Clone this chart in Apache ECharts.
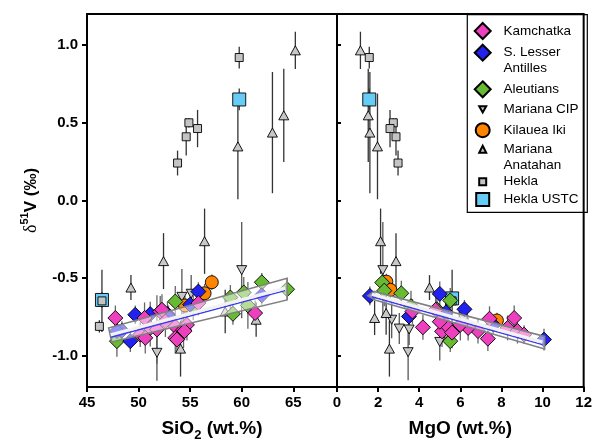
<!DOCTYPE html>
<html><head><meta charset="utf-8">
<script src="https://cdn.jsdelivr.net/npm/echarts@6/dist/echarts.min.js"></script>
<style>html,body{margin:0;padding:0;background:#fff}#c{width:595px;height:447px}</style>
</head><body><div id="c"></div>
<script>
// ---------- tick labels ----------
const yTicks = [-1.0, -0.5, 0.0, 0.5, 1.0];
const sio2Ticks = [45, 50, 55, 60, 65];
const mgoTicks = [0, 2, 4, 6, 8, 10, 12];

// ---------- data: [x, δ51V, error half-width] ----------
// SiO2 panel
const kamchatkaSiO2 = [[47.75,-0.756,0.08],[50.58,-0.756,0.10],[52.1,-0.714,0.10],[51.13,-0.82,0.12],[51.78,-0.83,0.22],[50.16,-0.863,0.08],[50.65,-0.884,0.10],[53.56,-0.81,0.08],[53.56,-0.884,0.10],[53.72,-0.895,0.08],[54.36,-0.83,0.12],[54.69,-0.80,0.10],[55.8,-0.66,0.08],[52.6,-0.778,0.10],[61.3,-0.724,0.08],[54.46,-0.84,0.06],[52.27,-0.703,0.10]];
const slaSiO2 = [[49.68,-0.735,0.06],[49.2,-0.905,0.07],[48.39,-0.837,0.06],[47.9,-0.84,0.05],[51.13,-0.731,0.08],[52.8,-0.731,0.08],[55.8,-0.586,0.06],[55.0,-0.67,0.06],[52.9,-0.746,0.07],[61.95,-0.61,0.06]];
const aleutiansSiO2 = [[47.9,-0.905,0.10],[53.56,-0.65,0.10],[55.3,-0.69,0.08],[58.9,-0.624,0.08],[59.15,-0.729,0.07],[60.2,-0.592,0.10],[60.6,-0.675,0.15],[61.95,-0.526,0.06],[64.4,-0.571,0.07]];
const cipSiO2 = [[60.0,-0.448,0.31],[51.78,-0.98,0.18],[55.1,-0.60,0.12],[54.2,-0.62,0.18]];
const kilaueaSiO2 = [[54.5,-0.675,0.06],[56.4,-0.597,0.06],[57.1,-0.526,0.05]];
const anatahanSiO2 = [[59.63,0.348,0.34],[62.98,0.437,0.39],[64.08,0.548,0.30],[65.2,0.966,0.12],[52.42,-0.39,0.18],[49.26,-0.56,0.08],[56.4,-0.262,0.21],[54.07,-0.953,0.18],[61.4,-0.767,0.11],[58.4,-0.714,0.14]];
const heklaSiO2 = [[53.78,0.241,0.08],[54.62,0.41,0.12],[54.88,0.50,0.03],[55.72,0.463,0.12],[59.76,0.92,0.07],[46.45,-0.646,0.20],[46.2,-0.81,0.04]];
const heklaUstcSiO2 = [[59.76,0.65,0.07],[46.45,-0.64,0.05]];
// MgO panel
const kamchatkaMgO = [[3.67,-0.714,0.08],[4.18,-0.816,0.08],[5.11,-0.842,0.10],[4.8,-0.703,0.10],[7.42,-0.761,0.08],[8.62,-0.756,0.08],[7.34,-0.889,0.08],[8.3,-0.82,0.08],[8.78,-0.84,0.08],[6.86,-0.84,0.08],[6.38,-0.82,0.08],[9.1,-0.863,0.06],[5.3,-0.80,0.10],[5.6,-0.85,0.10],[6.0,-0.80,0.10],[5.0,-0.78,0.10]];
const slaMgO = [[1.6,-0.614,0.06],[3.5,-0.746,0.06],[5.0,-0.601,0.08],[5.3,-0.72,0.07],[6.2,-0.70,0.06],[7.6,-0.80,0.06],[10.07,-0.895,0.07]];
const aleutiansMgO = [[2.2,-0.528,0.10],[3.13,-0.597,0.08],[5.51,-0.643,0.08],[5.51,-0.905,0.07],[4.86,-0.70,0.10],[2.3,-0.58,0.10],[3.6,-0.68,0.10]];
const cipMgO = [[2.23,-0.448,0.31],[2.66,-0.767,0.12],[3.03,-0.824,0.10],[3.46,-0.976,0.18],[3.51,-0.83,0.10],[5.0,-0.91,0.12]];
const kilaueaMgO = [[2.4,-0.522,0.05],[2.6,-0.575,0.06],[7.78,-0.772,0.05]];
const anatahanMgO = [[1.14,0.966,0.12],[1.52,0.548,0.30],[1.6,0.437,0.39],[1.97,0.348,0.34],[2.12,-0.262,0.21],[2.87,-0.39,0.18],[1.83,-0.756,0.11],[2.39,-0.724,0.14],[2.55,-0.953,0.18],[4.5,-0.56,0.08]];
const heklaMgO = [[1.57,0.92,0.07],[2.74,0.50,0.03],[2.58,0.463,0.12],[2.87,0.41,0.12],[2.97,0.241,0.08],[5.6,-0.646,0.20],[6.14,-0.74,0.04]];
const heklaUstcMgO = [[1.57,0.65,0.07],[5.6,-0.63,0.05]];

// regression bands (outline vertices) and centre lines
const bandSiO2 = [[47.1,-0.82],[64.4,-0.50],[64.4,-0.64],[47.4,-0.91]];
const fitSiO2 = [[47.3,-0.868],[64.2,-0.568]];
const bandMgO = [[1.5,-0.612],[1.8,-0.585],[10.1,-0.875],[10.1,-0.955],[1.85,-0.64]];
const fitMgO = [[1.7,-0.607],[10.0,-0.915]];

// ---------- styles ----------
const FONT = 'Liberation Sans, Arial, sans-serif';
const ST = {
  'Kamchatka':        {symbol:'diamond', size:[15,15], color:'#EE3FBF', rot:0, z:7, err:'#666', leg:16},
  'S. Lesser Antilles':{symbol:'diamond', size:[15,15], color:'#2222F0', rot:0, z:6, err:'#666', leg:16},
  'Aleutians':        {symbol:'diamond', size:[15,15], color:'#66BB33', rot:0, z:5, err:'#666', leg:16},
  'Mariana CIP':      {symbol:'triangle', size:[10,9], color:'#C8C8C8', rot:180, z:3, err:'#555', leg:7,
                       icon:'path://M0,0L10,0L5,9Z'},
  'Kilauea Iki':      {symbol:'circle', size:13, color:'#FF8400', rot:0, z:4, err:'#666', leg:14},
  'Mariana Anatahan': {symbol:'triangle', size:[10,9], color:'#C8C8C8', rot:0, z:3, err:'#333', leg:7},
  'Hekla':            {symbol:'rect', size:8, color:'#C4C4C4', rot:0, z:3, err:'#333', leg:7},
  'Hekla USTC':       {symbol:'rect', size:13, color:'#66CCF5', rot:0, z:2, err:'#333', leg:13}
};

const series = [];
function addSet(name, data, panel) {
  const st = ST[name];
  series.push({
    type:'custom', name:'err', xAxisIndex:panel, yAxisIndex:panel, z:1, silent:true,
    data:data, encode:{x:0, y:1},
    renderItem:function(params, api){
      const x = api.value(0), y = api.value(1), e = api.value(2);
      const a = api.coord([x, y + e]), b = api.coord([x, y - e]);
      return {type:'line', shape:{x1:a[0], y1:a[1], x2:b[0], y2:b[1]}, style:{stroke:st.err, lineWidth:1.3}};
    }
  });
  series.push({
    type:'scatter', name:name, xAxisIndex:panel, yAxisIndex:panel, z:st.z,
    data:data.map(d => [d[0], d[1]]),
    symbol:st.symbol, symbolSize:st.size, symbolRotate:st.rot,
    itemStyle:{color:st.color, borderColor:'#000', borderWidth:0.9, opacity:1},
    emphasis:{disabled:true}
  });
}
const panels = [
  [kamchatkaSiO2, slaSiO2, aleutiansSiO2, cipSiO2, kilaueaSiO2, anatahanSiO2, heklaSiO2, heklaUstcSiO2],
  [kamchatkaMgO, slaMgO, aleutiansMgO, cipMgO, kilaueaMgO, anatahanMgO, heklaMgO, heklaUstcMgO]
];
const names = Object.keys(ST);
panels.forEach((sets, p) => sets.forEach((d, i) => addSet(names[i], d, p)));

function addBand(pts, fit, panel) {
  series.push({
    type:'custom', name:'band', xAxisIndex:panel, yAxisIndex:panel, z:8, silent:true, clip:false,
    data:[pts[0]], encode:{x:0, y:1},
    renderItem:function(params, api){
      return {type:'polygon', shape:{points:pts.map(q => api.coord(q))},
        style:{fill:'rgba(255,255,255,0.5)', stroke:'#808080', lineWidth:1.6}};
    }
  });
  series.push({
    type:'line', name:'fitBlue', xAxisIndex:panel, yAxisIndex:panel, z:9, silent:true,
    data:fit.map(q => [q[0], q[1] - 0.012]), symbol:'none', lineStyle:{color:'#3a3af0', width:1.4}
  });
  series.push({
    type:'line', name:'fitWhite', xAxisIndex:panel, yAxisIndex:panel, z:10, silent:true,
    data:fit.map(q => [q[0], q[1] + 0.004]), symbol:'none', lineStyle:{color:'#f2f2f2', width:3.2}
  });
}
addBand(bandSiO2, fitSiO2, 0);
addBand(bandMgO, fitMgO, 1);

// ---------- legend (one component per entry so icon sizes can differ) ----------
const legendRows = [
  ['Kamchatka', 30, 1], ['S. Lesser Antilles', 52.7, 2], ['Aleutians', 88.3, 1], ['Mariana CIP', 109.3, 1],
  ['Kilauea Iki', 130, 1], ['Mariana Anatahan', 149.3, 2], ['Hekla', 181.7, 1], ['Hekla USTC', 199.5, 1]
];
// two-line labels get a leading empty line so that the first line sits level with the icon
const legendLabels = {'S. Lesser Antilles':'\nS. Lesser\nAntilles', 'Mariana Anatahan':'\nMariana\nAnatahan'};
const LH = 15.6, ICX = 481.7, TX = 502.5;
const legends = legendRows.map(([name, cy, lines]) => {
  const st = ST[name];
  const w = st.leg;
  const boxH = lines === 2 ? 3 * LH : Math.max(LH, w);
  const item = {name:name};
  if (st.icon) item.icon = st.icon;
  return {
    orient:'vertical', left:ICX - w / 2, top:cy - boxH / 2, padding:0, itemGap:0,
    itemWidth:w, itemHeight:w, selectedMode:false, symbolRotate:0,
    data:[item],
    formatter:function(n){ return legendLabels[n] || n; },
    textStyle:{fontFamily:FONT, fontSize:13.5, color:'#000', lineHeight:LH,
      padding:[0, 0, 0, TX - (ICX + w / 2) - 5]}
  };
});

function yAxisCommon(idx, showLabels) {
  return {
    gridIndex:idx, type:'value', min:-1.2, max:1.2,
    axisLine:{show:true, onZero:false, lineStyle:{color:'#000', width:2}},
    axisTick:{show:true, inside:!showLabels, customValues:yTicks, length:showLabels ? 5 : 4, lineStyle:{color:'#000', width:2}},
    axisLabel:{show:showLabels, customValues:yTicks, formatter:v => v.toFixed(1), color:'#000',
      fontFamily:FONT, fontWeight:'bold', fontSize:15, margin:9},
    splitLine:{show:false}
  };
}
const nameStyle = {fontFamily:FONT, fontWeight:'bold', fontSize:19, color:'#000', lineHeight:27,
  rich:{sub:{fontFamily:FONT, fontWeight:'bold', fontSize:13, lineHeight:13, verticalAlign:'bottom', color:'#000'}}};

const option = {
  animation:false,
  backgroundColor:'#fff',
  grid:[
    {left:87, top:14, width:250, height:374, show:true, borderColor:'#000', borderWidth:2, containLabel:false},
    {left:337, top:14, width:250, height:374, show:true, borderColor:'#000', borderWidth:2, containLabel:false}
  ],
  xAxis:[
    {gridIndex:0, type:'value', min:45, max:69.24,
      axisLine:{show:true, onZero:false, lineStyle:{color:'#000', width:2}},
      axisTick:{show:true, customValues:sio2Ticks, length:5, lineStyle:{color:'#000', width:2}},
      axisLabel:{customValues:sio2Ticks, color:'#000', fontFamily:FONT, fontWeight:'bold', fontSize:15, margin:8},
      splitLine:{show:false},
      name:'SiO{sub|2} (wt.%)', nameLocation:'middle', nameGap:28, nameTextStyle:nameStyle},
    {gridIndex:1, type:'value', min:0, max:12, interval:2,
      axisLine:{show:true, onZero:false, lineStyle:{color:'#000', width:2}},
      axisTick:{show:true, length:5, lineStyle:{color:'#000', width:2}},
      axisLabel:{color:'#000', fontFamily:FONT, fontWeight:'bold', fontSize:15, margin:8},
      splitLine:{show:false},
      name:'MgO (wt.%)', nameLocation:'middle', nameGap:28, nameTextStyle:nameStyle}
  ],
  yAxis:[
    Object.assign(yAxisCommon(0, true), {
      name:'{d|δ}{s|51}{b|V (‰)}', nameLocation:'middle', nameGap:44,
      nameTextStyle:{color:'#000', lineHeight:24, rich:{
        d:{fontFamily:'Liberation Serif, serif', fontSize:18, lineHeight:24, color:'#000'},
        s:{fontFamily:FONT, fontWeight:'bold', fontSize:11, lineHeight:11, verticalAlign:'top', color:'#000'},
        b:{fontFamily:FONT, fontWeight:'bold', fontSize:17, lineHeight:24, color:'#000'}
      }}
    }),
    yAxisCommon(1, false)
  ],
  legend:legends,
  graphic:[{type:'rect', left:466.7, top:14, shape:{width:120, height:197.7},
    style:{fill:'rgba(0,0,0,0)', stroke:'#000', lineWidth:1.2}, z:50, silent:true}],
  series:series
};
const chart = echarts.init(document.getElementById('c'), null, {renderer:'canvas'});
chart.setOption(option);
</script></body></html>
